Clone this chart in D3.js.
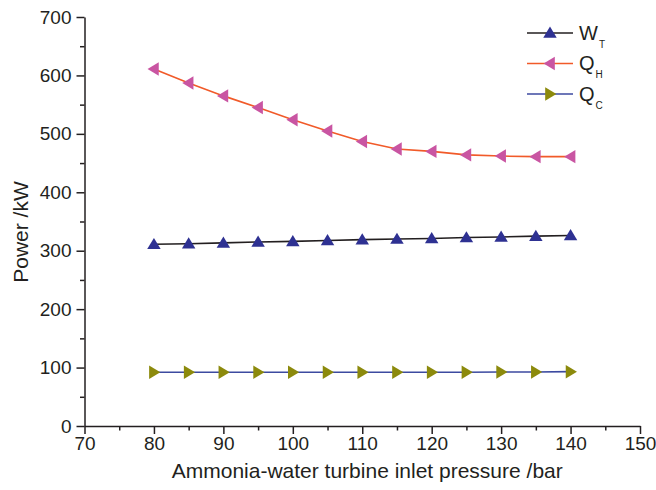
<!DOCTYPE html>
<html>
<head>
<meta charset="utf-8">
<script src="https://cdn.jsdelivr.net/npm/d3@7"></script>
<style>
  body { margin: 0; background: #fff; }
  text { font-family: "Liberation Sans", Arial, sans-serif; fill: #231f20; }
</style>
</head>
<body>
<div id="plot"></div>
<script>
// pressure values (bar)
const pressure = [80, 85, 90, 95, 100, 105, 110, 115, 120, 125, 130, 135, 140];
// powers (kW)
const wT = [311, 312, 313.5, 315, 316, 317.5, 319, 320, 321, 322.5, 323.5, 325, 326];
const qH = [611, 587, 565, 545, 524, 505, 487, 474, 470, 464, 462, 461, 461];
const qC = [92, 92, 92, 92, 92, 92, 92, 92, 92, 92, 92.5, 92.5, 93];

const xTicks = [70, 80, 90, 100, 110, 120, 130, 140, 150];
const yTicks = [0, 100, 200, 300, 400, 500, 600, 700];

const series = [
  {name: "W", sub: "T", values: wT, line: "#231f20", fill: "#2e3192", shape: "up"},
  {name: "Q", sub: "H", values: qH, line: "#f15a29", fill: "#c955a2", shape: "left"},
  {name: "Q", sub: "C", values: qC, line: "#3c4aa0", fill: "#8c8a0c", shape: "right"}
];

const W = 656, H = 490;
const margin = {top: 17, right: 16, bottom: 64, left: 84.5};
const width = W - margin.left - margin.right;
const height = H - margin.top - margin.bottom;

const svg = d3.select("#plot").append("svg")
  .attr("width", W).attr("height", H)
  .append("g")
  .attr("transform", `translate(${margin.left},${margin.top})`);

const x = d3.scaleLinear().domain([70, 150]).range([0, width]);
const y = d3.scaleLinear().domain([0, 700]).range([height, 0]);

// minor ticks
const xMinor = d3.range(75, 150, 10);
const yMinor = d3.range(50, 700, 100);

svg.append("g")
  .attr("transform", `translate(0,${height})`)
  .call(d3.axisBottom(x).tickValues(xTicks).tickSize(8).tickPadding(3).tickSizeOuter(0));
svg.append("g")
  .attr("transform", `translate(0,${height})`)
  .call(d3.axisBottom(x).tickValues(xMinor).tickSize(4.5).tickFormat("").tickSizeOuter(0))
  .select(".domain").remove();

svg.append("g")
  .call(d3.axisLeft(y).tickValues(yTicks).tickSize(8).tickPadding(5).tickSizeOuter(0));
svg.append("g")
  .call(d3.axisLeft(y).tickValues(yMinor).tickSize(4.5).tickFormat("").tickSizeOuter(0))
  .select(".domain").remove();

svg.selectAll(".domain, .tick line").attr("stroke", "#231f20").attr("stroke-width", 1.5);
svg.selectAll(".tick text").style("font-size", "19px").attr("fill", "#231f20");

// axis titles
svg.append("text")
  .attr("text-anchor", "middle")
  .attr("x", width / 2 + 5)
  .attr("y", height + 52)
  .style("font-size", "21px")
  .text("Ammonia-water turbine inlet pressure /bar");

svg.append("text")
  .attr("text-anchor", "middle")
  .attr("transform", "rotate(-90)")
  .attr("x", -215)
  .attr("y", -57)
  .style("font-size", "21px")
  .text("Power /kW");

function tri(shape, s) {
  // triangle path centred on 0,0
  if (shape === "up") return `M0,${-s}L${s * 1.05},${s * 0.75}L${-s * 1.05},${s * 0.75}Z`;
  if (shape === "left") return `M${-s},0L${s * 0.75},${-s * 1.05}L${s * 0.75},${s * 1.05}Z`;
  return `M${s},0L${-s * 0.75},${-s * 1.05}L${-s * 0.75},${s * 1.05}Z`;
}

const line = d3.line()
  .x((d, i) => x(pressure[i]))
  .y(d => y(d));

series.forEach(s => {
  svg.append("path")
    .datum(s.values)
    .attr("fill", "none")
    .attr("stroke", s.line)
    .attr("stroke-width", 1.6)
    .attr("d", line);

  svg.selectAll(null)
    .data(s.values)
    .enter().append("path")
    .attr("transform", (d, i) => `translate(${x(pressure[i])},${y(d)})`)
    .attr("d", tri(s.shape, 6.4))
    .attr("fill", s.fill);
});

// legend
const legend = svg.append("g").attr("transform", `translate(${527 - margin.left},${33 - margin.top})`);
series.forEach((s, i) => {
  const g = legend.append("g").attr("transform", `translate(0,${i * 30.5})`);
  g.append("line").attr("x1", 0).attr("x2", 46).attr("y1", 0).attr("y2", 0)
    .attr("stroke", s.line).attr("stroke-width", 1.6);
  g.append("path").attr("transform", "translate(23,0)")
    .attr("d", tri(s.shape, 6.4)).attr("fill", s.fill);
  const t = g.append("text").attr("x", 52).attr("y", 6.5).style("font-size", "20px");
  t.append("tspan").text(s.name);
  t.append("tspan").attr("dy", 8).attr("dx", 1).style("font-size", "10px").text(s.sub);
});
</script>
</body>
</html>
